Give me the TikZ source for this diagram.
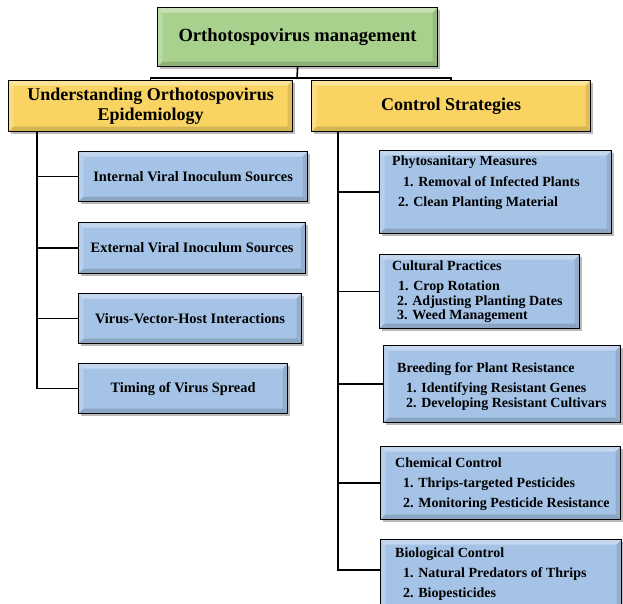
\documentclass[tikz,border=0pt]{standalone}
\usepackage{fontspec}
\setmainfont{Liberation Serif}
\usetikzlibrary{shadows}
\definecolor{boxblue}{HTML}{A5C3E6}
\definecolor{boxgreen}{HTML}{A9D18E}
\definecolor{boxyellow}{HTML}{F9D462}
\tikzset{
  bevel/.style={path picture={
    \fill[white,opacity=.35] (path picture bounding box.north west) -- (path picture bounding box.north east)
      -- ([shift={(-5pt,-5pt)}]path picture bounding box.north east) -- ([shift={(5pt,-5pt)}]path picture bounding box.north west) -- cycle;
    \fill[white,opacity=.2] (path picture bounding box.north west) -- (path picture bounding box.south west)
      -- ([shift={(5pt,5pt)}]path picture bounding box.south west) -- ([shift={(5pt,-5pt)}]path picture bounding box.north west) -- cycle;
    \fill[black,opacity=.15] (path picture bounding box.south west) -- (path picture bounding box.south east)
      -- ([shift={(-5pt,5pt)}]path picture bounding box.south east) -- ([shift={(5pt,5pt)}]path picture bounding box.south west) -- cycle;
    \fill[black,opacity=.1] (path picture bounding box.north east) -- (path picture bounding box.south east)
      -- ([shift={(-5pt,5pt)}]path picture bounding box.south east) -- ([shift={(-5pt,-5pt)}]path picture bounding box.north east) -- cycle;
  }},
  basebox/.style={draw=black, line width=1.2pt, rectangle, inner sep=0pt, anchor=north west,
    drop shadow={shadow xshift=2pt, shadow yshift=-2pt, fill=black!45, opacity=.6}, bevel,
    font=\bfseries\fontsize{14.4}{14}\selectfont, align=center},
  topbox/.style={basebox, fill=boxgreen, font=\bfseries\fontsize{18.6}{20}\selectfont},
  catbox/.style={basebox, fill=boxyellow, font=\bfseries\fontsize{18}{20.5}\selectfont},
  bluebox/.style={basebox, fill=boxblue},
  item/.style={inner sep=0pt, anchor=base west, font=\bfseries\fontsize{14}{14}\selectfont},
  conn/.style={line width=1.6pt, draw=black}
}
\begin{document}
\begin{tikzpicture}[x=1pt,y=-1pt]
\useasboundingbox (0,0) rectangle (623,604);
\clip (0,0) rectangle (623,604);
% main boxes
\node[topbox, minimum width=280pt, minimum height=59pt] (top) at (157,7) {Orthotospovirus management};
\node[catbox, minimum width=284pt, minimum height=51pt] (L) at (8,80) {Understanding Orthotospovirus\\Epidemiology};
\node[catbox, minimum width=279pt, minimum height=51pt] (R) at (311,80) {Control Strategies};
% left boxes
\node[bluebox, minimum width=229pt, minimum height=50pt] (b1) at (78,151) {Internal Viral Inoculum Sources};
\node[bluebox, minimum width=227pt, minimum height=51pt] (b2) at (78,222) {External Viral Inoculum Sources};
\node[bluebox, minimum width=223pt, minimum height=50pt] (b3) at (78,293) {Virus-Vector-Host Interactions};
\node[bluebox, minimum width=209pt, minimum height=50pt] (b4) at (78,363) {Timing of Virus Spread};
% right boxes
\node[bluebox, minimum width=232pt, minimum height=83pt] (r1) at (379,150) {};
\node[bluebox, minimum width=200pt, minimum height=74pt] (r2) at (379,254) {};
\node[bluebox, minimum width=237pt, minimum height=77pt] (r3) at (383,345) {};
\node[bluebox, minimum width=240pt, minimum height=73pt] (r4) at (380,446) {};
\node[bluebox, minimum width=241pt, minimum height=75pt] (r5) at (380,539) {};
% right texts
\node[item] (r1t) at (392,166) {Phytosanitary Measures};
\node[item] (r1a) at (403,186) {1. Removal of Infected Plants};
\node[item] (r1b) at (398,206) {2. Clean Planting Material};
\node[item] (r2t) at (392,270) {Cultural Practices};
\node[item] (r2a) at (398,290) {1. Crop Rotation};
\node[item] (r2b) at (397,305) {2. Adjusting Planting Dates};
\node[item] (r2c) at (397,319) {3. Weed Management};
\node[item] (r3t) at (397,372) {Breeding for Plant Resistance};
\node[item] (r3a) at (406,392) {1. Identifying Resistant Genes};
\node[item] (r3b) at (406,407) {2. Developing Resistant Cultivars};
\node[item] (r4t) at (395,467) {Chemical Control};
\node[item] (r4a) at (403,487) {1. Thrips-targeted Pesticides};
\node[item] (r4b) at (403,507) {2. Monitoring Pesticide Resistance};
\node[item] (r5t) at (395,557) {Biological Control};
\node[item] (r5a) at (403,577) {1. Natural Predators of Thrips};
\node[item] (r5b) at (403,597) {2. Biopesticides};
% connectors
\coordinate (jt) at (297,78);
\draw[conn] (top.south) -- (jt);
\draw[conn] (L.north) |- (jt) -| (R.north);
\coordinate (lt) at ([xshift=29pt]L.south west);
\draw[conn] (lt) |- (b4.west);
\foreach \b in {b1,b2,b3} \draw[conn] (\b.west) -- (\b.west -| lt);
\coordinate (rt) at ([xshift=27pt]R.south west);
\coordinate (r5j) at ([yshift=-31pt]r5.north west);
\draw[conn] (rt) |- (r5j);
\foreach \b in {r1,r2,r3,r4} \draw[conn] (\b.west) -- (\b.west -| rt);
\end{tikzpicture}
\end{document}
